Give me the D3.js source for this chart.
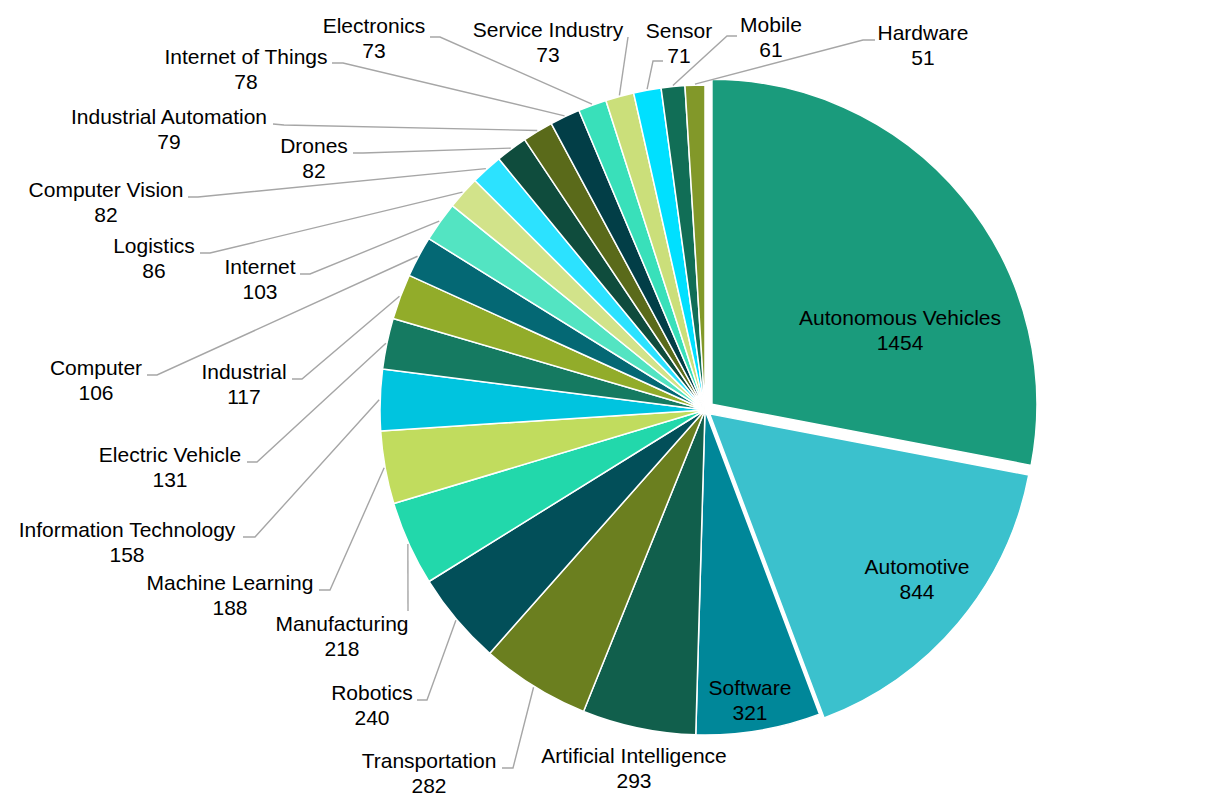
<!DOCTYPE html>
<html>
<head>
<meta charset="utf-8">
<script src="https://cdn.jsdelivr.net/npm/d3@7"></script>
<style>
  html, body { margin: 0; padding: 0; background: #ffffff; }
  svg { display: block; }
  text { font-family: "Liberation Sans", Arial, sans-serif; font-size: 21px; fill: #000; }
</style>
</head>
<body>
<svg id="chart" width="1212" height="799"></svg>
<script>
// Slice categories, clockwise from 12 o'clock
const categories = [
  "Autonomous Vehicles", "Automotive", "Software", "Artificial Intelligence",
  "Transportation", "Robotics", "Manufacturing", "Machine Learning",
  "Information Technology", "Electric Vehicle", "Industrial", "Computer",
  "Internet", "Logistics", "Computer Vision", "Drones",
  "Industrial Automation", "Internet of Things", "Electronics",
  "Service Industry", "Sensor", "Mobile", "Hardware"
];

// Count per category
const values = [
  1454, 844, 321, 293,
  282, 240, 218, 188,
  158, 131, 117, 106,
  103, 86, 82, 82,
  79, 78, 73,
  73, 71, 61, 51
];

// Slice fill colours
const colors = [
  "#1a9b7c", "#3bc1cd", "#008799", "#115f4c",
  "#6b7f1f", "#024f59", "#22d8ab", "#c1dc5e",
  "#00c4df", "#157a61", "#92ac2a", "#046874",
  "#53e4c2", "#d2e38a", "#2ce2ff", "#0f4c3d",
  "#5a6a1a", "#023e47", "#39e0ba",
  "#cbdf7a", "#00e0ff", "#116e56", "#829829"
];

// Pull-out distance for exploded slices (px)
const explode = { "Autonomous Vehicles": 9, "Automotive": 6 };

// Label placement: [centerX, nameBaselineY, leader elbow, leader end]
const labelLayout = {
  "Autonomous Vehicles":     [900, 325],
  "Automotive":              [917, 574],
  "Software":                [750, 695],
  "Artificial Intelligence": [634, 763],
  "Transportation":          [429, 768, [513, 768], [502, 768]],
  "Robotics":                [372, 700, [427, 700], [417, 700]],
  "Manufacturing":           [342, 631, [408, 611], [408, 611]],
  "Machine Learning":        [230, 590, [330, 590], [319, 590]],
  "Information Technology":  [127, 537, [255, 537], [243, 537]],
  "Electric Vehicle":        [170, 462, [257, 462], [247, 462]],
  "Industrial":              [244, 379, [302, 379], [292, 379]],
  "Computer":                [96, 375, [157, 375], [147, 375]],
  "Internet":                [260, 274, [310, 274], [300, 274]],
  "Logistics":               [154, 253, [210, 253], [200, 253]],
  "Computer Vision":         [106, 197, [198, 197], [188, 197]],
  "Drones":                  [314, 153, [363, 153], [353, 153]],
  "Industrial Automation":   [169, 124, [284, 125], [273, 124]],
  "Internet of Things":      [246, 64, [343, 63], [332, 63]],
  "Electronics":             [374, 33, [440, 37], [430, 37]],
  "Service Industry":        [548, 37, [628, 37], [628, 37]],
  "Sensor":                  [679, 38, [653, 61], [663, 61]],
  "Mobile":                  [771, 32, [727, 36], [737, 36]],
  "Hardware":                [923, 40, [863, 40], [875, 40]]
};

const cx = 705, cy = 410, radius = 325;
const lineGap = 25;

const data = categories.map((c, i) => ({ category: c, value: values[i], color: colors[i] }));

const pie = d3.pie().value(d => d.value).sort(null).startAngle(0).endAngle(2 * Math.PI);
const arcs = pie(data);

const arc = d3.arc().innerRadius(0).outerRadius(radius);
const rimArc = d3.arc().innerRadius(radius + 1).outerRadius(radius + 1);

const svg = d3.select("#chart");
const g = svg.append("g").attr("transform", `translate(${cx},${cy})`);

// Slices
g.selectAll("path.slice")
  .data(arcs)
  .join("path")
  .attr("class", "slice")
  .attr("d", arc)
  .attr("fill", d => d.data.color)
  .attr("stroke", "#ffffff")
  .attr("stroke-width", 1.5)
  .attr("stroke-linejoin", "round")
  .attr("transform", d => {
    const off = explode[d.data.category] || 0;
    if (!off) return null;
    const a = (d.startAngle + d.endAngle) / 2;
    return `translate(${off * Math.sin(a)},${-off * Math.cos(a)})`;
  });

// Leader lines
const leaders = arcs.filter(d => labelLayout[d.data.category] && labelLayout[d.data.category][2]);
svg.append("g")
  .selectAll("polyline")
  .data(leaders)
  .join("polyline")
  .attr("fill", "none")
  .attr("stroke", "#a6a6a6")
  .attr("stroke-width", 1.4)
  .attr("points", d => {
    const [sx, sy] = rimArc.centroid(d);
    const L = labelLayout[d.data.category];
    return [[sx + cx, sy + cy], L[2], L[3]].map(p => p.join(",")).join(" ");
  });

// Data labels: category name and value
const labels = svg.append("g")
  .selectAll("text")
  .data(arcs)
  .join("text")
  .attr("text-anchor", "middle")
  .attr("x", d => labelLayout[d.data.category][0])
  .attr("y", d => labelLayout[d.data.category][1]);

labels.append("tspan")
  .attr("x", d => labelLayout[d.data.category][0])
  .text(d => d.data.category);

labels.append("tspan")
  .attr("x", d => labelLayout[d.data.category][0])
  .attr("dy", lineGap)
  .text(d => d.data.value);
</script>
</body>
</html>
